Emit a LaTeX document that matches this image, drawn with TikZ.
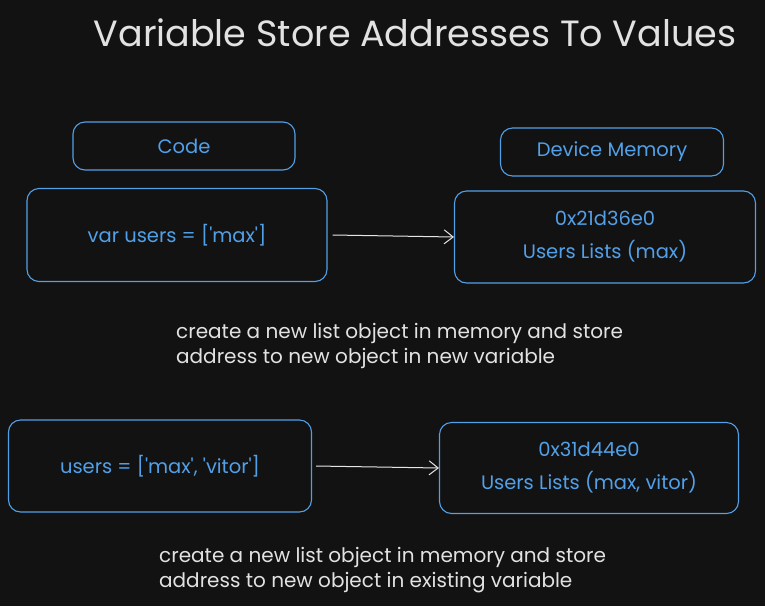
\documentclass[tikz,border=0pt]{standalone}
\usepackage{fontspec}
\setmainfont{Poppins}
\usetikzlibrary{arrows.meta}
\definecolor{bgdark}{RGB}{18,18,18}
\definecolor{sketchblue}{RGB}{82,160,232}
\definecolor{chalk}{RGB}{226,226,226}
\newcommand{\sq}{\textquotesingle}
\tikzset{
    memcell/.style={rectangle, draw=sketchblue, line width=1.1pt, rounded corners=12pt, text=sketchblue, align=center, font=\fontsize{19.5}{33}\selectfont},
    note/.style={anchor=west, text=chalk, align=left, font=\fontsize{20}{25}\selectfont, inner sep=0pt},
    pointer/.style={draw=chalk!85, line width=1pt, -{Straight Barb[length=9pt,width=14pt]}}
}
\begin{document}
\begin{tikzpicture}[x=1pt, y=-1pt]
    \fill[bgdark] (0,0) rectangle (765,606);
    \useasboundingbox (0,0) rectangle (765,606);
    \node[text=chalk, font=\fontsize{36.5}{40}\selectfont] (title) at (415,33) {Variable Store Addresses To Values};
    % headers
    \node[memcell, minimum width=222pt, minimum height=48pt] (code) at (184,146) {Code};
    \node[memcell, minimum width=223pt, minimum height=48pt] (memory) at (612,152) {Device Memory};
    % first assignment
    \node[memcell, minimum width=300pt, minimum height=93pt] (decl) at (177,235) {var users = [\sq max\sq]};
    \node[memcell, minimum width=301pt, minimum height=92pt] (listmax) at (605,237) {0x21d36e0\\Users Lists (max)};
    \draw[pointer] (decl.east) ++(5,0) -- (listmax.west);
    \node[note] (notenew) at (176,346) {create a new list object in memory and store\\address to new object in new variable};
    % second assignment
    \node[memcell, minimum width=303pt, minimum height=92pt] (assign) at (160,466) {users = [\sq max\sq, \sq vitor\sq]};
    \node[memcell, minimum width=299pt, minimum height=91pt] (listvitor) at (589,468) {0x31d44e0\\Users Lists (max, vitor)};
    \draw[pointer] (assign.east) ++(4,0) -- (listvitor.west);
    \node[note] (noteexist) at (159,570) {create a new list object in memory and store\\address to new object in existing variable};
\end{tikzpicture}
\end{document}
